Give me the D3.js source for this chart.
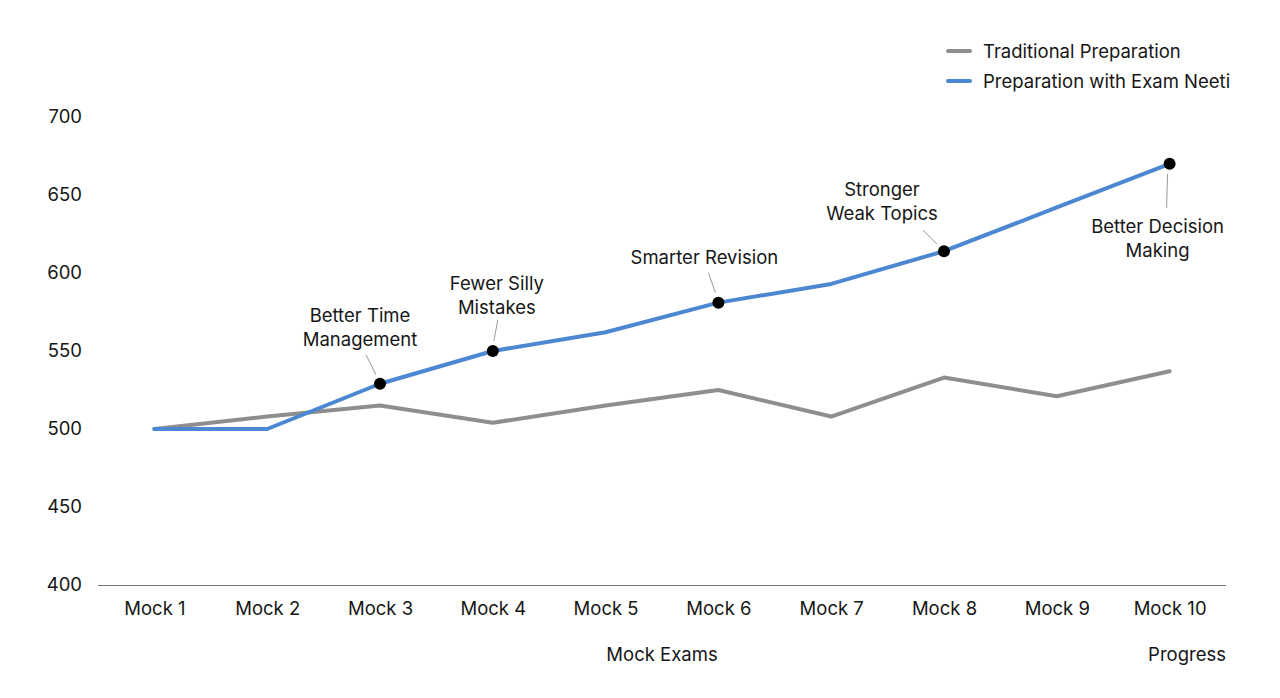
<!DOCTYPE html>
<html>
<head>
<meta charset="utf-8">
<script src="https://cdn.jsdelivr.net/npm/d3@7"></script>
<style>
  html, body { margin: 0; padding: 0; background: #fff; }
  svg text { font-family: Inter, "Noto Sans", sans-serif; fill: #161616; }
</style>
</head>
<body>
<div id="chart"></div>
<script>
// --- data ---
const mocks = ["Mock 1", "Mock 2", "Mock 3", "Mock 4", "Mock 5", "Mock 6", "Mock 7", "Mock 8", "Mock 9", "Mock 10"];
const traditional = [500, 508, 515, 504, 515, 525, 508, 533, 521, 537];
const examNeeti = [500, 500, 529, 550, 562, 581, 593, 614, 642, 670];
const yTicks = [400, 450, 500, 550, 600, 650, 700];
const seriesNames = ["Traditional Preparation", "Preparation with Exam Neeti"];
const milestoneIdx = [2, 3, 5, 7, 9];
const milestoneText = [
    ["Better Time", "Management"],
    ["Fewer Silly", "Mistakes"],
    ["Smarter Revision"],
    ["Stronger", "Weak Topics"],
    ["Better Decision", "Making"]
];

// label placement relative to the dot: text centre dx, first baseline dy, leader start/end
const labelLayout = [
    { dx: -20, dy: -62, l1: [-14, -29], l2: [-4, -9] },
    { dx: 4, dy: -61, l1: [5, -31], l2: [1, -10] },
    { dx: -14, dy: -39, l1: [-10, -30], l2: [-3, -10] },
    { dx: -62, dy: -55, l1: [-21, -21], l2: [-7, -7] },
    { dx: -12, dy: 69, l1: [-3, 44], l2: [-2, 10] }
];

const W = 1280, H = 698;
const margin = { top: 117, right: 54, bottom: 113, left: 98 };
const width = W - margin.left - margin.right;
const height = H - margin.top - margin.bottom;
const fontSize = 18.5;

const colors = ["#8e8e8e", "#4c87d1"];

const svg = d3.select("#chart").append("svg")
    .attr("width", W).attr("height", H);

const g = svg.append("g").attr("transform", `translate(${margin.left},${margin.top})`);

const x = d3.scalePoint().domain(mocks).range([0, width]).padding(0.5);
const y = d3.scaleLinear().domain([400, 700]).range([height, 0]);

// y tick labels (no axis line)
const yAxis = g.append("g")
    .call(d3.axisLeft(y).tickValues(yTicks).tickSize(0).tickPadding(16));
yAxis.select(".domain").remove();
yAxis.selectAll("text").attr("font-size", fontSize).attr("fill", "#161616")
    .style("font-family", "Inter, sans-serif");

// x axis
const xAxis = g.append("g").attr("transform", `translate(0,${height})`)
    .call(d3.axisBottom(x).tickSize(0).tickPadding(17));
xAxis.select(".domain").attr("stroke", "#777").attr("stroke-width", 1.2)
    .attr("d", `M0,0.5H${width}`);
xAxis.selectAll("text").attr("font-size", fontSize).attr("fill", "#161616")
    .style("font-family", "Inter, sans-serif");

g.append("text")
    .attr("x", x("Mock 5") + x.step() / 2).attr("y", height + 76)
    .attr("text-anchor", "middle").attr("font-size", fontSize)
    .text("Mock Exams");
g.append("text")
    .attr("x", width).attr("y", height + 76)
    .attr("text-anchor", "end").attr("font-size", fontSize)
    .text("Progress");

// lines
const line = d3.line().x((d, i) => x(mocks[i])).y(d => y(d));
[traditional, examNeeti].forEach((s, k) => {
    g.append("path").datum(s)
        .attr("fill", "none")
        .attr("stroke", colors[k])
        .attr("stroke-width", 4)
        .attr("stroke-linejoin", "round")
        .attr("stroke-linecap", "round")
        .attr("d", line);
});

// milestones
milestoneIdx.forEach((idx, j) => {
    const cx = x(mocks[idx]), cy = y(examNeeti[idx]);
    const L = labelLayout[j];
    g.append("line")
        .attr("x1", cx + L.l1[0]).attr("y1", cy + L.l1[1])
        .attr("x2", cx + L.l2[0]).attr("y2", cy + L.l2[1])
        .attr("stroke", "#9a9a9a").attr("stroke-width", 1);
    const t = g.append("text")
        .attr("text-anchor", "middle").attr("font-size", fontSize)
        .attr("x", cx + L.dx).attr("y", cy + L.dy);
    milestoneText[j].forEach((s, r) => {
        t.append("tspan").attr("x", cx + L.dx).attr("dy", r === 0 ? 0 : 24).text(s);
    });
    g.append("circle").attr("cx", cx).attr("cy", cy).attr("r", 6).attr("fill", "#000");
});

// legend
const legend = svg.append("g").attr("transform", "translate(948,51)");
seriesNames.forEach((name, k) => {
    const row = legend.append("g").attr("transform", `translate(0,${k * 30})`);
    row.append("line").attr("x1", 0).attr("x2", 22).attr("y1", 0).attr("y2", 0)
        .attr("stroke", colors[k]).attr("stroke-width", 4).attr("stroke-linecap", "round");
    row.append("text").attr("x", 35).attr("y", 6.5).attr("font-size", fontSize).text(name);
});
</script>
</body>
</html>
